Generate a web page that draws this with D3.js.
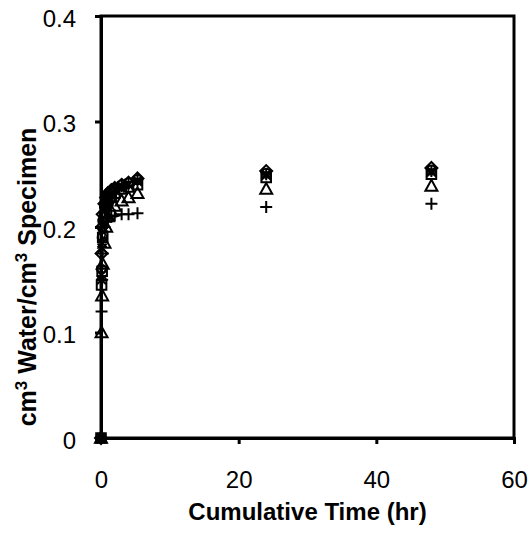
<!DOCTYPE html>
<html><head><meta charset="utf-8">
<script src="https://cdn.jsdelivr.net/npm/d3@7"></script>
<style>body{margin:0;background:#fff}svg{display:block}text{font-family:"Liberation Sans",Arial,sans-serif}</style>
</head><body>
<svg id="c" width="529" height="539"></svg>
<script>
const times = [0, 0.083, 0.167, 0.25, 0.5, 0.75, 1, 1.5, 2, 3, 4, 5.3, 24, 48];
const diamondVals  = [0, 0.175, 0.2, 0.212, 0.222, 0.228, 0.232, 0.235, 0.237, 0.240, 0.242, 0.246, 0.253, 0.256];
const squareVals   = [0, 0.145, 0.158, 0.19, 0.21, 0.22, 0.225, 0.228, 0.232, 0.236, 0.238, 0.240, 0.247, 0.250];
const triangleVals = [0, 0.100, 0.135, 0.165, 0.185, 0.200, 0.210, 0.215, 0.220, 0.225, 0.228, 0.232, 0.236, 0.239];
const xVals        = [0, 0.150, 0.180, 0.200, 0.215, 0.222, 0.228, 0.232, 0.235, 0.238, 0.240, 0.243, 0.249, 0.252];
const starVals     = [0, 0.155, 0.185, 0.203, 0.217, 0.224, 0.229, 0.233, 0.236, 0.239, 0.241, 0.244, 0.250, 0.253];
const circleVals   = [0, 0.160, 0.190, 0.206, 0.219, 0.226, 0.231, 0.234, 0.237, 0.240, 0.242, 0.245, 0.251, 0.254];
const plusVals     = [0, 0.120, 0.150, 0.175, 0.200, 0.205, 0.208, 0.210, 0.211, 0.212, 0.212, 0.213, 0.219, 0.222];
const xTicks = [0, 20, 40, 60];
const yTicks = [0, 0.1, 0.2, 0.3, 0.4];
const yTickLabels = ["0", "0.1", "0.2", "0.3", "0.4"];

const series = [
  {vals: diamondVals, sym: "diamond"},
  {vals: squareVals, sym: "square"},
  {vals: triangleVals, sym: "triangle"},
  {vals: xVals, sym: "x"},
  {vals: starVals, sym: "star"},
  {vals: circleVals, sym: "circle"},
  {vals: plusVals, sym: "plus"}
];

const svg = d3.select("#c");
const L = 101, R = 514, T = 16, B = 438;
const x = d3.scaleLinear().domain([0, 60]).range([L, R]);
const y = d3.scaleLinear().domain([0, 0.4]).range([B, T]);

// frame
svg.append("rect").attr("x", L).attr("y", T).attr("width", R - L).attr("height", B - T)
  .attr("fill", "none").attr("stroke", "#000").attr("stroke-width", 3);

const xa = svg.append("g").attr("transform", `translate(0,${B})`)
  .call(d3.axisBottom(x).tickValues(xTicks).tickSize(6).tickPadding(27).tickFormat(d3.format("d")));
const ya = svg.append("g").attr("transform", `translate(${L},0)`)
  .call(d3.axisLeft(y).tickValues(yTicks).tickSize(6).tickPadding(19).tickFormat((d, i) => yTickLabels[i]));
[xa, ya].forEach(g => {
  g.select(".domain").attr("stroke-width", 3);
  g.selectAll(".tick line").attr("stroke-width", 3);
  g.selectAll(".tick text").attr("font-size", 24).attr("fill", "#000")
    .style("font-family", "'Liberation Sans',Arial,sans-serif");
});
ya.selectAll(".tick text").attr("dy", "0.42em");

function markerPath(sym, s) {
  const h = s / 2;
  switch (sym) {
    case "diamond": return `M0,${-h}L${h},0L0,${h}L${-h},0Z`;
    case "square": return `M${-h*0.8},${-h*0.8}H${h*0.8}V${h*0.8}H${-h*0.8}Z`;
    case "triangle": return `M0,${-h}L${h},${h*0.8}L${-h},${h*0.8}Z`;
    case "x": return `M${-h*0.75},${-h*0.75}L${h*0.75},${h*0.75}M${-h*0.75},${h*0.75}L${h*0.75},${-h*0.75}`;
    case "star": return `M${-h*0.75},${-h*0.75}L${h*0.75},${h*0.75}M${-h*0.75},${h*0.75}L${h*0.75},${-h*0.75}M0,${-h}V${h}`;
    case "circle": return d3.arc()({innerRadius: 0, outerRadius: h*0.75, startAngle: 0, endAngle: 2*Math.PI});
    case "plus": return `M${-h},0H${h}M0,${-h}V${h}`;
  }
}

const pts = svg.append("g");
series.forEach(s => {
  pts.append("g").selectAll("path").data(times.map((t, i) => [t, s.vals[i]])).join("path")
    .attr("transform", d => `translate(${x(d[0])},${y(d[1])})`)
    .attr("d", markerPath(s.sym, 12))
    .attr("fill", "none").attr("stroke", "#000").attr("stroke-width", 2);
});

svg.append("text").attr("x", (L + R) / 2).attr("y", 520).attr("text-anchor", "middle")
  .attr("font-size", 24).attr("font-weight", "bold").attr("fill", "#000")
  .text("Cumulative Time (hr)");

const yt = svg.append("text").attr("transform", `translate(36,${(T + B) / 2 + 50}) rotate(-90)`)
  .attr("text-anchor", "middle").attr("font-size", 25).attr("font-weight", "bold").attr("fill", "#000");
yt.append("tspan").text("cm");
yt.append("tspan").attr("dy", -9).attr("font-size", 17).text("3");
yt.append("tspan").attr("dy", 9).text(" Water/cm");
yt.append("tspan").attr("dy", -9).attr("font-size", 17).text("3");
yt.append("tspan").attr("dy", 9).text("  Specimen");
</script>
</body></html>
